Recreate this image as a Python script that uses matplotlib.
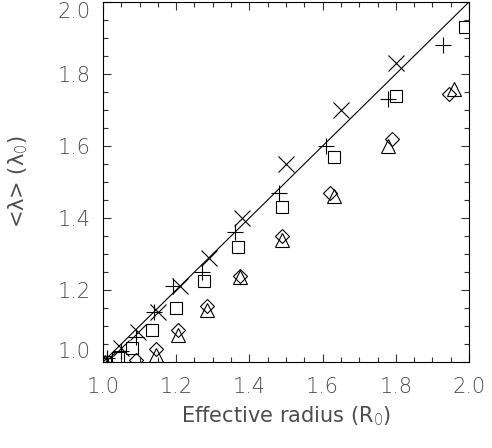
import numpy as np
import matplotlib
matplotlib.use("Agg")
import matplotlib.pyplot as plt
from matplotlib.ticker import MultipleLocator

# values
x_cross = [1.01, 1.05, 1.095, 1.15, 1.21, 1.29, 1.38, 1.50, 1.65, 1.80]
y_cross = [1.005, 1.038, 1.082, 1.14, 1.21, 1.29, 1.40, 1.55, 1.70, 1.83]

x_plus = [1.01, 1.05, 1.09, 1.14, 1.19, 1.27, 1.36, 1.48, 1.61, 1.78, 1.93]
y_plus = [1.01, 1.03, 1.07, 1.14, 1.21, 1.25, 1.36, 1.47, 1.60, 1.73, 1.88]

x_sq = [1.005, 1.04, 1.08, 1.135, 1.20, 1.275, 1.37, 1.49, 1.63, 1.80, 1.99]
y_sq = [1.0, 1.01, 1.04, 1.09, 1.15, 1.225, 1.32, 1.43, 1.57, 1.74, 1.93]

x_dia = [1.09, 1.145, 1.205, 1.285, 1.375, 1.49, 1.62, 1.79, 1.945]
y_dia = [1.005, 1.035, 1.09, 1.155, 1.24, 1.35, 1.47, 1.62, 1.745]

x_tri = [1.005, 1.145, 1.205, 1.285, 1.375, 1.49, 1.63, 1.78, 1.96]
y_tri = [1.0, 1.02, 1.075, 1.145, 1.235, 1.34, 1.462, 1.60, 1.757]

plt.rcParams['font.weight'] = 'light'

fig = plt.figure(figsize=(4.92, 4.48), dpi=100)
ax = fig.add_axes([0.2093, 0.192, 0.744, 0.8036])

ax.plot([1.0, 2.0], [1.0, 2.0], color="k", lw=0.8)

mk = dict(linestyle="none", color="k", mfc="none", mec="k", mew=0.8, clip_on=True)
ax.plot(x_cross, y_cross, marker="x", ms=11.5, **mk)
ax.plot(x_plus, y_plus, marker="+", ms=11, **mk)
ax.plot(x_sq, y_sq, marker="s", ms=9, **mk)
ax.plot(x_dia, y_dia, marker="D", ms=7, **mk)
ax.plot(x_tri, y_tri, marker="^", ms=10, **mk)

ax.set_xlim(1.0, 2.0)
ax.set_ylim(1.0, 2.0)
ax.xaxis.set_major_locator(MultipleLocator(0.2))
ax.yaxis.set_major_locator(MultipleLocator(0.2))
ax.xaxis.set_minor_locator(MultipleLocator(0.05))
ax.yaxis.set_minor_locator(MultipleLocator(0.05))
ax.tick_params(which="both", direction="in", top=True, right=True,
               width=0.8, colors="0.2")
ax.tick_params(which="major", length=6, labelsize=15, labelcolor="0.3")
ax.tick_params(axis="x", which="major", pad=11)
ax.tick_params(axis="y", which="major", pad=9)
ax.tick_params(which="minor", length=3.5)
for s in ax.spines.values():
    s.set_linewidth(0.8)

ax.set_xlabel("Effective radius (R$_0$)", fontsize=15, color="0.3", labelpad=5)
ax.set_ylabel("<λ> (λ$_0$)", fontsize=15, color="0.3", labelpad=20)

# keep the end labels inside the frame like the reference
fig.canvas.draw()
for t in ax.yaxis.get_major_ticks():
    v = t.get_loc()
    if abs(v - 1.0) < 1e-6:
        t.label1.set_va("bottom")
    elif abs(v - 2.0) < 1e-6:
        t.label1.set_va("top")

fig.savefig("out.png", dpi=100)
